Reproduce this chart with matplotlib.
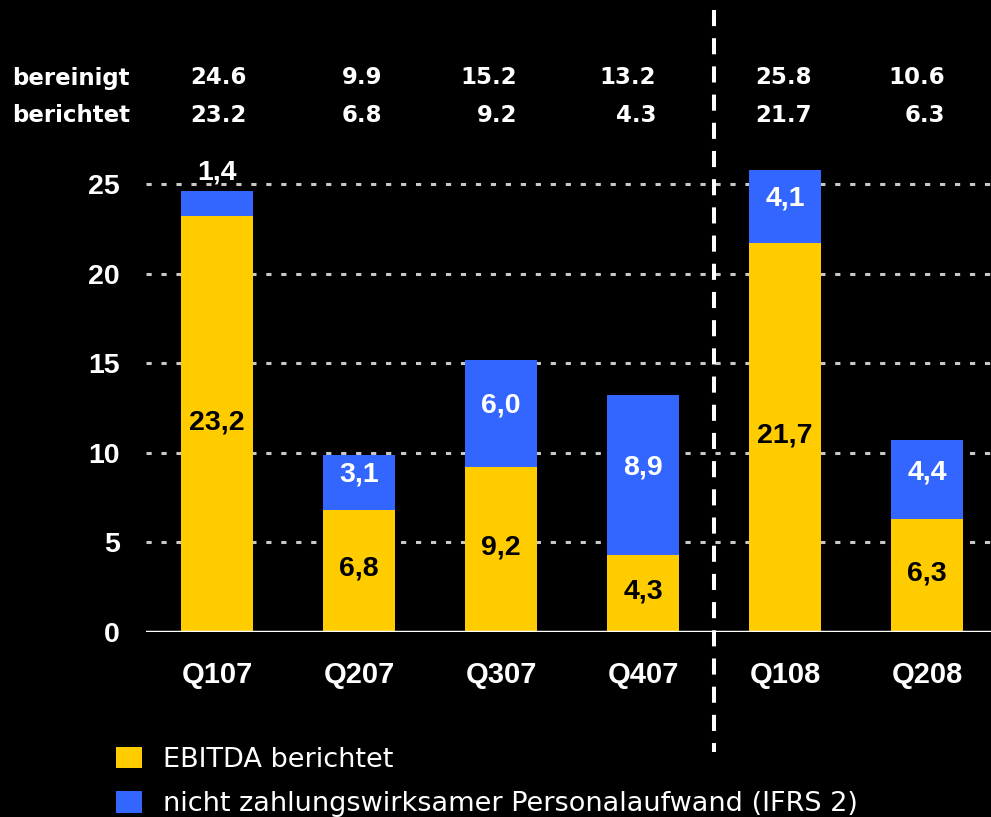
import matplotlib
matplotlib.use("Agg")
import matplotlib.pyplot as plt
from matplotlib.transforms import blended_transform_factory
from matplotlib.patches import Patch

# ---- data ----
quarters = ["Q107", "Q207", "Q307", "Q407", "Q108", "Q208"]
ebitda_reported = [23.2, 6.8, 9.2, 4.3, 21.7, 6.3]
non_cash_personnel = [1.4, 3.1, 6.0, 8.9, 4.1, 4.4]
header_adjusted = ["24.6", "9.9", "15.2", "13.2", "25.8", "10.6"]
header_reported = ["23.2", "6.8", "9.2", "4.3", "21.7", "6.3"]
yticks = [0, 5, 10, 15, 20, 25]
row_labels = ["bereinigt", "berichtet"]
legend_labels = ["EBITDA berichtet", "nicht zahlungswirksamer Personalaufwand (IFRS 2)"]

# ---- style ----
W, H = 991, 817
DPI = 100
YELLOW = "#FFCC00"
BLUE = "#3366FF"
BOLD = "Liberation Sans"
HDR = "DejaVu Sans"

fig = plt.figure(figsize=(W / DPI, H / DPI), dpi=DPI, facecolor="black")

ax_left, ax_right = 146, 991
ax_bottom_px, ax_top_px = 632, 150
px_per_unit = 17.92
ax = fig.add_axes([ax_left / W, (H - ax_bottom_px) / H,
                   (ax_right - ax_left) / W, (ax_bottom_px - ax_top_px) / H])
ax.set_facecolor("black")
ax.set_ylim(0, (ax_bottom_px - ax_top_px) / px_per_unit)
ax.set_xlim(-0.5, 5.45)

x = list(range(len(quarters)))
width = 0.51

# gridlines
for t in yticks[1:]:
    ax.axhline(t, color="#C8C8C8", lw=2.2, dashes=(1.7, 3.2), zorder=1)
ax.axhline(0, color="white", lw=2.5, zorder=4)

b1 = ax.bar(x, ebitda_reported, width, color=YELLOW, zorder=3)
b2 = ax.bar(x, non_cash_personnel, width, bottom=ebitda_reported, color=BLUE, zorder=3)

# bar labels
for i in x:
    r = ebitda_reported[i]
    n = non_cash_personnel[i]
    ax.annotate(f"{r:.1f}".replace(".", ","), (i, r / 2), xytext=(0, 1.5),
                textcoords="offset points", ha="center", va="center",
                fontsize=20.5, fontweight="bold", family=BOLD, color="black", zorder=5)
    if n < 2:
        ax.annotate(f"{n:.1f}".replace(".", ","), (i, r + n), xytext=(0, 4),
                    textcoords="offset points", ha="center", va="bottom",
                    fontsize=20.5, fontweight="bold", family=BOLD, color="white", zorder=5)
    else:
        ax.annotate(f"{n:.1f}".replace(".", ","), (i, r + n / 2), xytext=(0, 5.5),
                    textcoords="offset points", ha="center", va="center",
                    fontsize=20.5, fontweight="bold", family=BOLD, color="white", zorder=5)

# axes styling
for s in ax.spines.values():
    s.set_visible(False)
ax.set_yticks(yticks)
ax.set_yticklabels([str(t) for t in yticks], fontsize=20.5, fontweight="bold",
                   family=BOLD, color="white")
ax.tick_params(axis="y", length=0, pad=19)
ax.set_xticks(x)
ax.set_xticklabels(quarters, fontsize=21, fontweight="bold", family=BOLD, color="white")
ax.tick_params(axis="x", length=0, pad=21)

# vertical dashed separator between Q407 and Q108
bt = blended_transform_factory(ax.transData, fig.transFigure)
ax.plot([3.5, 3.5], [1 - 10 / H, 1 - 752 / H], transform=bt, color="white",
        lw=2.9, dashes=(4.0, 3.0), clip_on=False, zorder=6, solid_capstyle="butt")

# header rows
hdr_dx_px = [30, 23, 16, 13, 27, 18]
row_y = [78, 115]
for rl, yy in zip(row_labels, row_y):
    fig.text(12 / W, 1 - yy / H, rl, ha="left", va="center", fontsize=16.5,
             fontweight="bold", family=HDR, color="white")
for vals, yy in zip([header_adjusted, header_reported], row_y):
    for i, v in enumerate(vals):
        ax.text(i + hdr_dx_px[i] / 142.0, 1 - yy / H, v, transform=bt, ha="right",
                va="center", fontsize=16.5, fontweight="bold", family=HDR, color="white")

# legend
handles = [Patch(facecolor=YELLOW), Patch(facecolor=BLUE)]
leg = fig.legend(handles, legend_labels, loc="upper left",
                 bbox_to_anchor=(116 / W, 1 - 747 / H), frameon=False,
                 prop={"family": HDR, "size": 19.5}, labelcolor="white",
                 handlelength=0.97, handleheight=0.82, handletextpad=0.78,
                 labelspacing=0.68, borderaxespad=0, borderpad=0)

fig.savefig("out.png", dpi=DPI, facecolor="black")
